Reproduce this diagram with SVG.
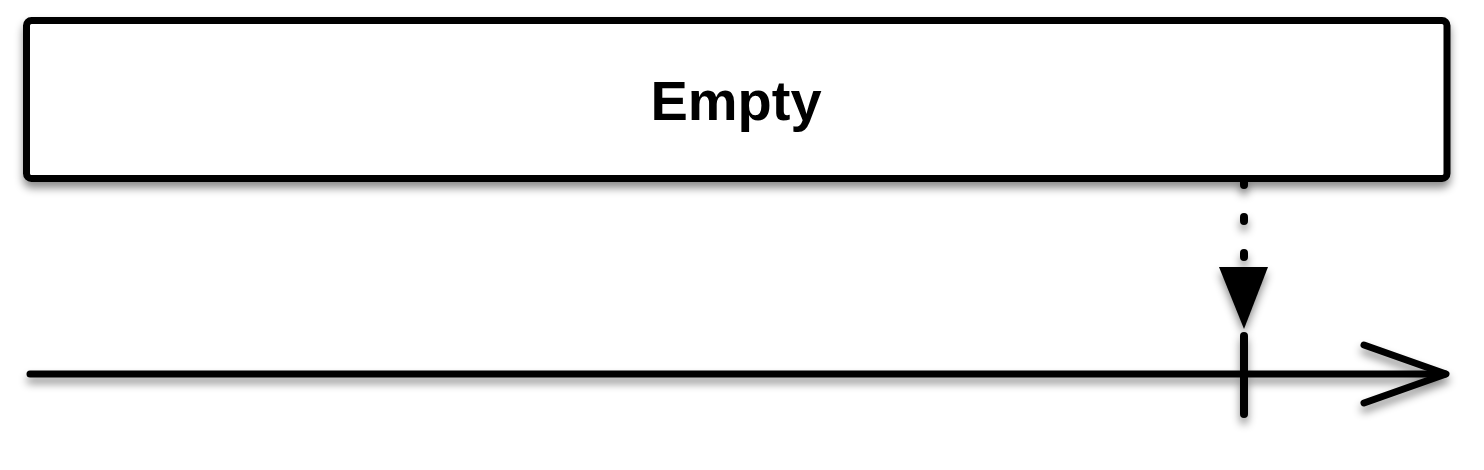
<svg xmlns="http://www.w3.org/2000/svg" width="1484" height="470" viewBox="0 0 1484 470">
<style>
.ln{fill:none;stroke:#000;stroke-linecap:round;stroke-linejoin:round}
.lbl{font-family:"Liberation Sans",Arial,sans-serif;font-weight:bold;font-size:56px;fill:#000}
</style>
<defs>
<filter id="sh" x="-5%" y="-20%" width="110%" height="150%">
<feDropShadow dx="0" dy="6" stdDeviation="4" flood-color="#000" flood-opacity="0.45"/>
</filter>
</defs>
<rect width="1484" height="470" fill="#fff"/>
<g id="empty" filter="url(#sh)">
<rect x="26.5" y="20.5" width="1420.5" height="158" rx="5" fill="#fff" stroke="#000" stroke-width="7"/>
<text class="lbl" x="736" y="120" text-anchor="middle">Empty</text>
</g>
<g id="connectors" filter="url(#sh)">
<line class="ln" x1="1244" y1="181" x2="1244" y2="258" stroke-width="8" stroke-dasharray="4 32"/>
<polygon points="1219,267 1268,267 1244,329" fill="#000"/>
<line class="ln" x1="30" y1="374" x2="1445" y2="374" stroke-width="7"/>
<polyline class="ln" points="1364,345 1446,374 1364,403" stroke-width="7"/>
<line class="ln" x1="1244" y1="336" x2="1244" y2="414" stroke-width="8"/>
</g>
</svg>
